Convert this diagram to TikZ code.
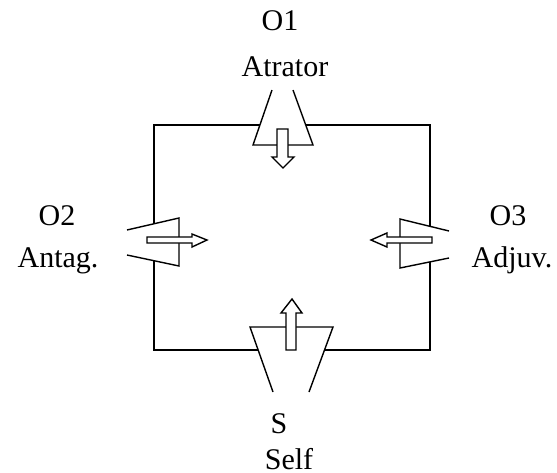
\documentclass[tikz,border=0pt]{standalone}
\usepackage{fontspec}
\setmainfont{Liberation Serif}
\usetikzlibrary{positioning}

\begin{document}
\begin{tikzpicture}[
  x=1pt,
  y=-1pt,
  frame/.style={draw=black, line width=1.4pt},
  funnel/.style={fill=white, draw=black, line width=1.4pt},
  blockarrow/.style={fill=white, draw=black, line width=1.4pt, line join=miter},
  lbl/.style={font=\fontsize{30}{36}\selectfont, inner sep=0pt, anchor=base}
]
  \useasboundingbox (0,0) rectangle (557,472);

  % frame
  \draw[frame] (154,125) rectangle (430,350);

  % funnels (open ends outward)
  \path[funnel] (272,90) -- (253,145) -- (313,145) -- (293,90);
  \path[funnel] (127,230) -- (179,218) -- (179,266) -- (127,255);
  \path[funnel] (449,231) -- (400,219) -- (400,268) -- (449,258);
  \path[funnel] (273,392) -- (250,327) -- (333,327) -- (309,392);

  % block arrows
  \draw[blockarrow] (277,129) -- (288,129) -- (288,157) -- (294,157) -- (283,168)
    -- (272,157) -- (277,157) -- cycle;
  \draw[blockarrow] (147,237) -- (192,237) -- (192,234) -- (207,240) -- (192,247)
    -- (192,243) -- (147,243) -- cycle;
  \draw[blockarrow] (432,237) -- (387,237) -- (387,233) -- (371,240) -- (387,247)
    -- (387,243) -- (432,243) -- cycle;
  \draw[blockarrow] (286,350) -- (296,350) -- (296,313) -- (302,313) -- (292,299)
    -- (281,313) -- (286,313) -- cycle;

  % labels
  \node[lbl] (o1) at (280,30) {O1};
  \node[lbl] (o1name) at (285,76) {Atrator};
  \node[lbl] (o2) at (57,225) {O2};
  \node[lbl] (o2name) at (58,267) {Antag.};
  \node[lbl] (o3) at (508,225) {O3};
  \node[lbl] (o3name) at (512,267) {Adjuv.};
  \node[lbl] (s) at (279,433) {S};
  \node[lbl] (sname) at (289,469) {Self};
\end{tikzpicture}
\end{document}
